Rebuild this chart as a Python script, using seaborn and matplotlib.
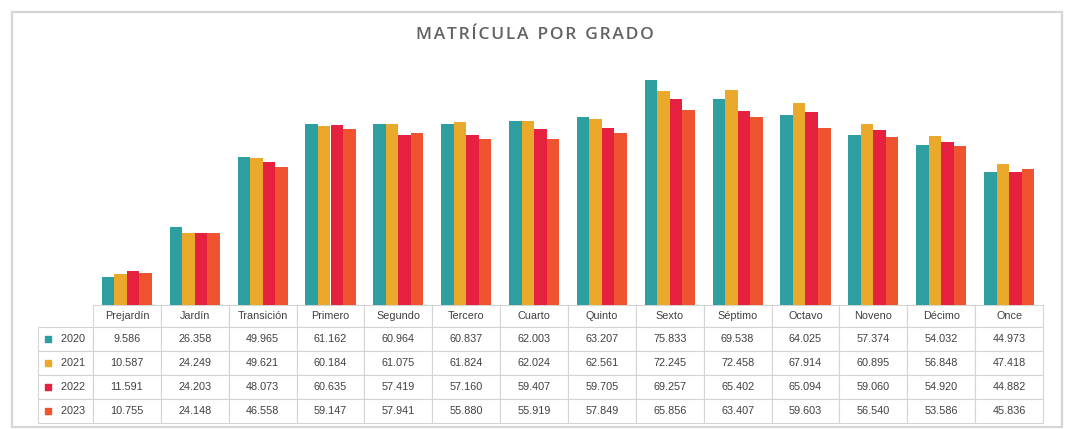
import matplotlib
matplotlib.use("Agg")
import matplotlib.pyplot as plt
import seaborn as sns
import pandas as pd
from matplotlib.patches import Rectangle

grades = ["Prejardín", "Jardín", "Transición", "Primero", "Segundo", "Tercero", "Cuarto",
          "Quinto", "Sexto", "Séptimo", "Octavo", "Noveno", "Décimo", "Once"]
years = ["2020", "2021", "2022", "2023"]
y2020 = [9586, 26358, 49965, 61162, 60964, 60837, 62003, 63207, 75833, 69538, 64025, 57374, 54032, 44973]
y2021 = [10587, 24249, 49621, 60184, 61075, 61824, 62024, 62561, 72245, 72458, 67914, 60895, 56848, 47418]
y2022 = [11591, 24203, 48073, 60635, 57419, 57160, 59407, 59705, 69257, 65402, 65094, 59060, 54920, 44882]
y2023 = [10755, 24148, 46558, 59147, 57941, 55880, 55919, 57849, 65856, 63407, 59603, 56540, 53586, 45836]
series = [y2020, y2021, y2022, y2023]
colors = ["#2e9fa1", "#eaa92b", "#e6203f", "#f0532f"]
title = "MATRÍCULA POR GRADO"

rows = []
for yr, vals in zip(years, series):
    for g, v in zip(grades, vals):
        rows.append({"Grado": g, "Año": yr, "Matrícula": v})
df = pd.DataFrame(rows)

sns.set_theme(style="white")
plt.rcParams["font.family"] = ["DejaVu Sans"]

W, H = 1068, 429
fig = plt.figure(figsize=(W / 100, H / 100), dpi=100)
fig.patch.set_facecolor("white")

# outer chart frame
fig.patches.append(Rectangle((12 / W, 1 - 427 / H), 1050 / W, 415 / H, transform=fig.transFigure,
                             fill=False, edgecolor="#d6d6d6", linewidth=1.6))

ax_l, ax_r, ax_b, ax_t = 93, 1043, 305, 67.6
ax = fig.add_axes([ax_l / W, 1 - ax_b / H, (ax_r - ax_l) / W, (ax_b - ax_t) / H])

sns.barplot(data=df, x="Grado", y="Matrícula", hue="Año", order=grades, hue_order=years,
            palette=colors, width=0.74, saturation=1, ax=ax, legend=False, errorbar=None,
            linewidth=0, edgecolor="none")
ax.set_ylim(0, 80000)
ax.set_xlim(-0.5, len(grades) - 0.5)
ax.set_xlabel("")
ax.set_ylabel("")
ax.set_xticks([])
ax.set_yticks([])
for s in ax.spines.values():
    s.set_visible(False)

spaced = "  ".join("\u200a".join(w) for w in title.split(" "))
fig.text(535 / W, 1 - 35 / H, spaced,
         ha="center", va="center", fontsize=12.5, fontweight="semibold",
         color="#626262", family=["Open Sans", "DejaVu Sans"])

# data table
axh = ax_b - ax_t
hdr_h, row_h = 22, 24
lab_w = 55
axw = ax_r - ax_l
fmt = lambda v: f"{v:,}".replace(",", ".")
cell_text = [["     " + yr] + [fmt(v) for v in vals] for yr, vals in zip(years, series)]
col_labels = [""] + grades
tot_h = hdr_h + row_h * len(years)
col_w = [lab_w / axw] + [1 / len(grades)] * len(grades)
tbl = ax.table(cellText=cell_text, colLabels=col_labels, colWidths=col_w,
               cellLoc="center", loc="bottom",
               bbox=[-lab_w / axw, -tot_h / axh, 1 + lab_w / axw, tot_h / axh])
tbl.auto_set_font_size(False)
for (r, c), cell in tbl.get_celld().items():
    cell.set_edgecolor("#d4d4d4")
    cell.set_linewidth(0.8)
    cell.get_text().set_fontsize(7.8)
    cell.get_text().set_color("#404040")
    cell.get_text().set_fontfamily("Liberation Sans")
    if r == 0:
        cell.set_height(hdr_h / axh)
    else:
        cell.set_height(row_h / axh)
    if r == 0 and c == 0:
        cell.visible_edges = ""
    if c == 0 and r > 0:
        cell.get_text().set_ha("center")

# colored legend keys inside row labels
for i, col in enumerate(colors):
    yc = -(hdr_h + row_h * (i + 0.5)) / axh
    ax.scatter([(48 - ax_l) / axw], [yc], marker="s", s=22, color=col,
               transform=ax.transAxes, clip_on=False, zorder=5)

fig.savefig("out.png", dpi=100, facecolor="white")
